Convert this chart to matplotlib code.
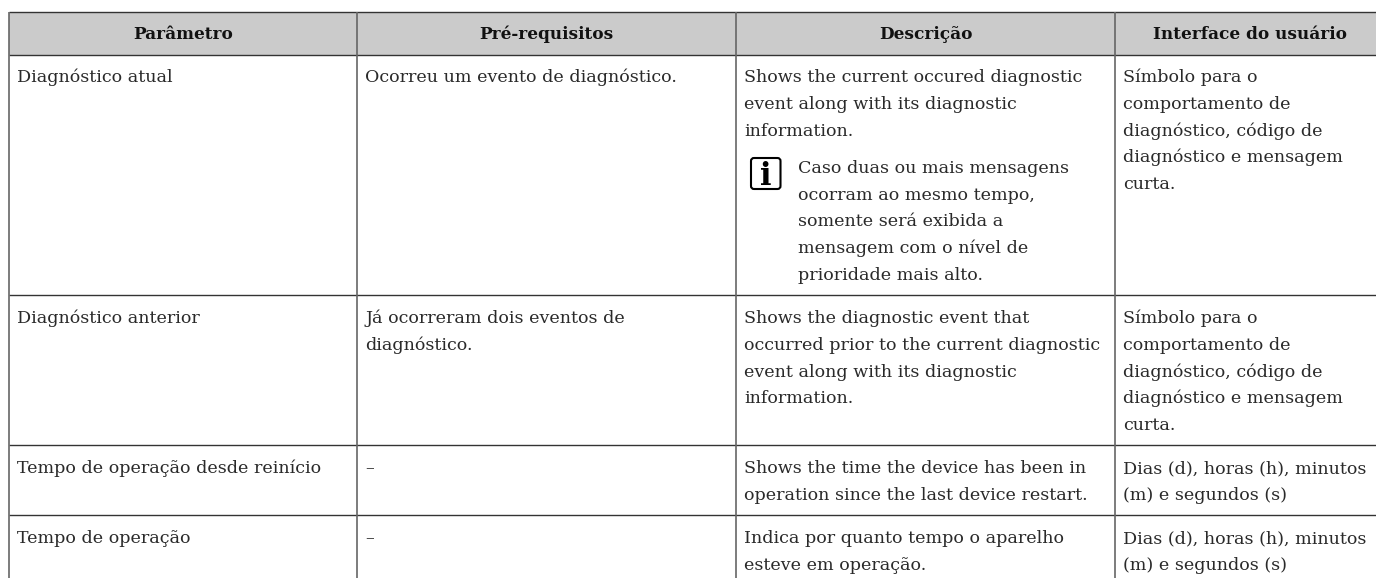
import matplotlib
matplotlib.use('Agg')
import matplotlib.pyplot as plt
from matplotlib.patches import FancyBboxPatch, Rectangle

plt.rcParams['font.family'] = ['DejaVu Serif']

W, H = 1376, 578

#table content
headers = ['Parâmetro', 'Pré-requisitos', 'Descrição', 'Interface do usuário']
col_param = [
    ['Diagnóstico atual'],
    ['Diagnóstico anterior'],
    ['Tempo de operação desde reinício'],
    ['Tempo de operação'],
]
col_prereq = [
    ['Ocorreu um evento de diagnóstico.'],
    ['Já ocorreram dois eventos de', 'diagnóstico.'],
    ['–'],
    ['–'],
]
col_desc = [
    ['Shows the current occured diagnostic', 'event along with its diagnostic', 'information.'],
    ['Shows the diagnostic event that', 'occurred prior to the current diagnostic', 'event along with its diagnostic', 'information.'],
    ['Shows the time the device has been in', 'operation since the last device restart.'],
    ['Indica por quanto tempo o aparelho', 'esteve em operação.'],
]
note_lines = ['Caso duas ou mais mensagens', 'ocorram ao mesmo tempo,', 'somente será exibida a',
              'mensagem com o nível de', 'prioridade mais alto.']
col_ui = [
    ['Símbolo para o', 'comportamento de', 'diagnóstico, código de', 'diagnóstico e mensagem', 'curta.'],
    ['Símbolo para o', 'comportamento de', 'diagnóstico, código de', 'diagnóstico e mensagem', 'curta.'],
    ['Dias (d), horas (h), minutos', '(m) e segundos (s)'],
    ['Dias (d), horas (h), minutos', '(m) e segundos (s)'],
]

#layout in pixels, the table runs a bit past the right edge of the image
col_x = [9, 357, 736, 1115, 1385]
row_y = [12, 54.5, 295, 445, 515]
first_base = [82, 323, 473, 543]
line_h = 26.8
pad = 8
fs = 12.6
dark = '#2a2a2a'

fig = plt.figure(figsize=(W / 100, H / 100), dpi=100)
ax = fig.add_axes([0, 0, 1, 1])
ax.set_xlim(0, W)
ax.set_ylim(H, 0)
ax.axis('off')

#header band
ax.add_patch(Rectangle((col_x[0], row_y[0]), W - col_x[0], row_y[1] - row_y[0], fc='#cbcbcb', ec='none'))
for i, h in enumerate(headers):
    ax.text((col_x[i] + col_x[i + 1]) / 2, 39, h, ha='center', va='baseline',
            fontsize=fs - 0.4, fontweight='bold', color='#111111')

#grid
for y in row_y:
    ax.plot([col_x[0], W], [y, y], color='#333333', lw=1.0, solid_capstyle='butt')
for x in col_x[:-1]:
    ax.plot([x, x], [row_y[0], H], color='#666666', lw=1.2, solid_capstyle='butt')

#body text
for c, column in enumerate([col_param, col_prereq, col_desc, col_ui]):
    for r, lines in enumerate(column):
        for k, s in enumerate(lines):
            ax.text(col_x[c] + pad, first_base[r] + k * line_h, s, ha='left', va='baseline',
                    fontsize=fs, color=dark)

#note with info icon
for k, s in enumerate(note_lines):
    ax.text(797.5, 173 + k * 26.7, s, ha='left', va='baseline', fontsize=fs, color=dark)
ax.add_patch(FancyBboxPatch((751, 158), 29.5, 31, boxstyle='round,pad=0,rounding_size=3',
                            fc='white', ec='black', lw=1.5))
ax.text(765.5, 185, 'i', ha='center', va='baseline', fontsize=22, fontweight='bold', color='black')

fig.savefig('out.png', dpi=100)
